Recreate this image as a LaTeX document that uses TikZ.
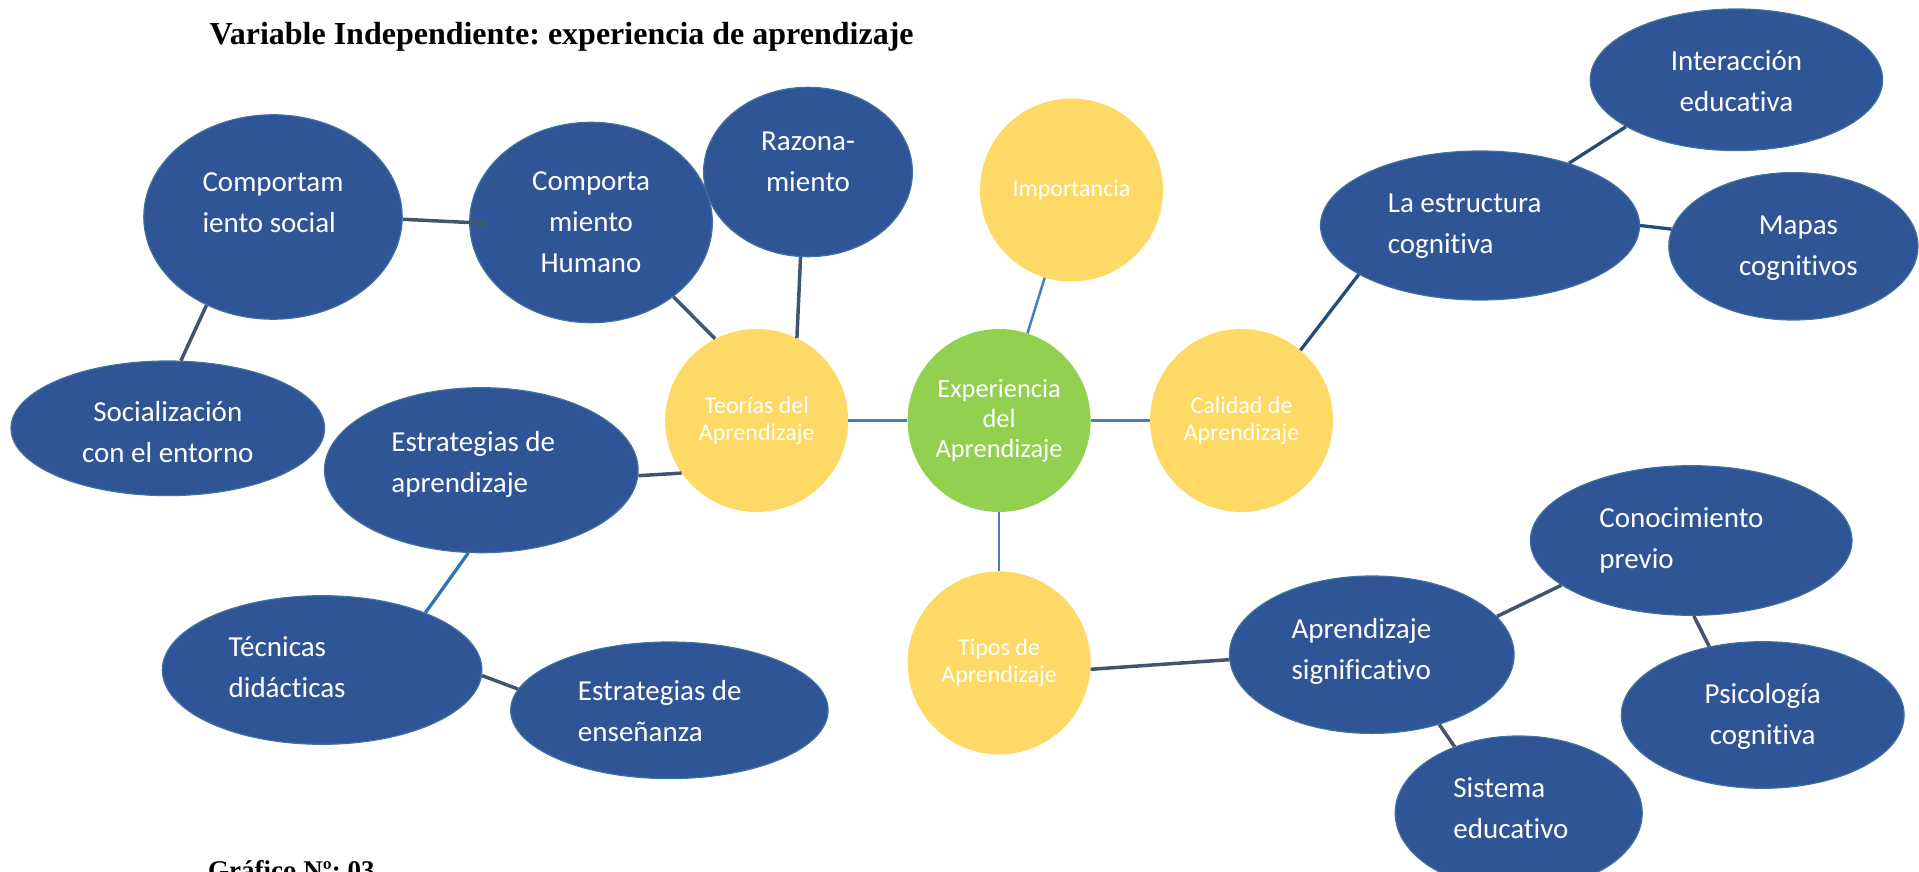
\documentclass[tikz,border=0pt]{standalone}
\usepackage{fontspec}
\setmainfont{Liberation Serif}
\newfontfamily\bubblefont[Ligatures=NoCommon]{Carlito}
\usepackage{tikz}
\usetikzlibrary{positioning,shapes}
\frenchspacing

\definecolor{bubbleblue}{RGB}{47,85,151}
\definecolor{bubbleedge}{RGB}{65,113,156}
\definecolor{hubyellow}{RGB}{255,217,102}
\definecolor{coregreen}{RGB}{146,208,80}
\definecolor{linkgray}{RGB}{68,84,106}
\definecolor{linknavy}{RGB}{31,78,121}
\definecolor{spokeblue}{RGB}{74,126,187}
\definecolor{brightblue}{RGB}{46,117,182}

% text of a bubble: x offset, raise, column type, lines
\newcommand{\bubtext}[4]{\raisebox{#2}[0pt][0pt]{\makebox[0pt]{\hspace*{#1}\hspace*{#1}\begin{tabular}{@{}#3@{}}#4\end{tabular}}}}

\begin{document}
\begin{tikzpicture}[x=1pt, y=-1pt, node distance=59pt]
    % Define styles
    \tikzstyle{bubble} = [ellipse, draw=bubbleedge, line width=1.2pt, fill=bubbleblue, text=white, inner sep=0pt, font=\bubblefont\fontsize{29}{41}\selectfont]
    \tikzstyle{hub} = [ellipse, fill=hubyellow, text=white, inner sep=0pt, minimum size=183pt, align=center, font=\bubblefont\fontsize{24}{27}\selectfont]
    \tikzstyle{core} = [hub, fill=coregreen, font=\bubblefont\fontsize{26.4}{30}\selectfont]
    \tikzstyle{link} = [line width=3.5pt, draw=linkgray]
    \tikzstyle{navylink} = [line width=3.3pt, draw=linknavy]
    \tikzstyle{spoke} = [line width=2.5pt, draw=spokeblue]
    \tikzstyle{caption} = [anchor=base west, inner sep=0pt, font=\bfseries]

    \useasboundingbox (0,0) rectangle (1919,872);
    \clip (0,0) rectangle (1919,872);

    % Titles
    \node[caption, font=\bfseries\fontsize{32}{38}\selectfont] (title) at (209.4,44.3) {Variable Independiente: experiencia de aprendizaje};
    \node[caption, font=\bfseries\fontsize{27}{32}\selectfont] (grafico) at (208,879) {Gráfico Nº: 03};

    % Centre
    \node[core] (exp) at (999.1,420.5) {Experiencia\\del\\Aprendizaje};
    \node[hub, left=of exp] (teor) {Teorías del\\Aprendizaje};
    \node[hub, right=of exp] (cal) {Calidad de\\Aprendizaje};
    \node[hub, below=of exp] (tipos) {Tipos de\\Aprendizaje};
    \node[hub] (impo) at (1071.5,190) {Importancia};

    % Left branches
    \node[bubble, minimum width=258.4pt, minimum height=204.4pt] (csoc) at (273,217) {\bubtext{0pt}{7.1pt}{l}{Comportam\\iento social}};
    \node[bubble, minimum width=242.6pt, minimum height=200.4pt] (chum) at (591,222.5) {\bubtext{0pt}{-6.7pt}{c}{Comporta\\miento\\Humano}};
    \node[bubble, minimum width=208.8pt, minimum height=169.4pt] (razon) at (808,172) {\bubtext{0pt}{2.6pt}{c}{Razona-\\miento}};
    \node[bubble, minimum width=313.6pt, minimum height=134.6pt] (social) at (167.8,428.3) {\bubtext{0pt}{-11.8pt}{c}{Socialización\\con el entorno}};
    \node[bubble, minimum width=313.6pt, minimum height=165pt] (estrap) at (481.3,470.2) {\bubtext{-8pt}{0.6pt}{l}{Estrategias de\\aprendizaje}};
    \node[bubble, minimum width=319.6pt, minimum height=148.6pt] (tecn) at (322.1,670) {\bubtext{-35pt}{-5.4pt}{l}{Técnicas\\didácticas}};
    \node[bubble, minimum width=317.4pt, minimum height=136.6pt] (estren) at (669.4,710.3) {\bubtext{-9.6pt}{-8.9pt}{l}{Estrategias de\\enseñanza}};

    % Right branches
    \node[bubble, minimum width=292.4pt, minimum height=141.6pt] (inter) at (1736.4,79.8) {\bubtext{0pt}{-9.4pt}{c}{Interacción\\educativa}};
    \node[bubble, minimum width=319pt, minimum height=149pt] (estru) at (1480,225.5) {\bubtext{-15.3pt}{-5.7pt}{l}{La estructura\\cognitiva}};
    \node[bubble, minimum width=249.2pt, minimum height=147.4pt] (mapas) at (1793.4,246.3) {\bubtext{5pt}{-6.8pt}{c}{Mapas\\cognitivos}};
    \node[bubble, minimum width=284.6pt, minimum height=157.4pt] (asig) at (1371.8,654.7) {\bubtext{-10.4pt}{-2.4pt}{l}{Aprendizaje\\significativo}};
    \node[bubble, minimum width=321.6pt, minimum height=149.6pt] (conoc) at (1691.2,540.5) {\bubtext{-9.7pt}{-5.4pt}{l}{Conocimiento\\previo}};
    \node[bubble, minimum width=282.8pt, minimum height=146.6pt] (psico) at (1762.7,715) {\bubtext{0pt}{-7.4pt}{c}{Psicología\\cognitiva}};
    \node[bubble, minimum width=247pt, minimum height=154pt] (siste) at (1518.7,813) {\bubtext{-7.8pt}{-3.4pt}{l}{Sistema\\educativo}};

    % Lines
    \draw[spoke] (teor) -- (exp);
    \draw[spoke] (exp) -- (cal);
    \draw[spoke] (exp) -- (tipos);
    \draw[spoke] (impo.253) -- (exp.72);
    \draw[link, shorten >=-16pt] (csoc.-1) -- (chum.180);
    \draw[link] (csoc.233) -- (social.79);
    \draw[link] (chum.-42) -- (teor.117);
    \draw[link] (razon.265) -- (teor.64);
    \draw[link] (estrap.-2) -- (teor.215);
    \draw[line width=3.3pt, draw=brightblue] (estrap.-99) -- (tecn.29);
    \draw[link] (tecn.-2) -- (estren.172);
    \draw[navylink] (cal.50) -- (estru.202);
    \draw[navylink] (estru.35) -- (inter.-157);
    \draw[navylink] (estru.0) -- (mapas.172);
    \draw[link] (tipos.-4) -- (asig.182);
    \draw[link] (asig.17) -- (conoc.-161);
    \draw[link] (conoc.-88) -- (psico.128);
    \draw[link] (asig.-46) -- (siste.134);
\end{tikzpicture}
\end{document}
